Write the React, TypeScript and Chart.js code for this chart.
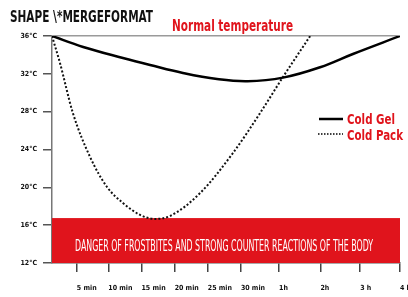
import React, { useEffect, useRef } from "react";
import { Chart, registerables } from "chart.js";

Chart.register(...registerables);

// Positions along the (non-uniform) time axis, in axis units
const xTickPos = [0.75, 1.7, 2.7, 3.7, 4.7, 5.7, 6.85, 8.1, 9.3, 10.5];
const xTickLabels = ["5 min", "10 min", "15 min", "20 min", "25 min", "30 min", "1h", "2h", "3 h", "4 h"];

const yTicks = [12, 16, 20, 24, 28, 32, 36];

const coldGelX = [0, 0.94, 2.14, 2.96, 3.95, 4.98, 5.9, 6.97, 8.09, 9.08, 10.5];
const coldGelY = [36, 34.84, 33.67, 32.93, 32.09, 31.45, 31.22, 31.6, 32.7, 34.1, 36];

const coldPackX = [0, 0.24, 0.63, 1.15, 1.66, 2.14, 2.66, 3.11, 3.56, 4.47, 5.46, 6.28, 6.97, 7.79];
const coldPackY = [36, 33.15, 27.86, 23.2, 20.04, 18.35, 17.08, 16.66, 16.97, 19.4, 23.63, 27.86, 31.67, 36];

const dangerBand = [12, 16.75];
const normalTemp = 36;

const titleText = "SHAPE \\*MERGEFORMAT";
const normalText = "Normal temperature";
const dangerText = "DANGER OF FROSTBITES AND STRONG COUNTER REACTIONS OF THE BODY";
const seriesNames = ["Cold Gel", "Cold Pack"];

const RED = "#e0141c";
const COND = '"DejaVu Sans Condensed", "DejaVu Sans", sans-serif';

function fitText(ctx: CanvasRenderingContext2D, text: string, x: number, baseline: number, width: number, font: string, color: string) {
  ctx.save();
  ctx.font = font;
  ctx.fillStyle = color;
  ctx.textAlign = "left";
  ctx.textBaseline = "alphabetic";
  const w = ctx.measureText(text).width;
  const s = width / w;
  ctx.translate(x, baseline);
  ctx.scale(s, 1);
  ctx.fillText(text, 0, 0);
  ctx.restore();
}

const decorPlugin = {
  id: "decor",
  beforeDatasetsDraw(chart: any) {
    const { ctx, scales } = chart;
    const xs = scales.x, ys = scales.y;
    const l = xs.getPixelForValue(xs.min);
    const r = xs.getPixelForValue(xs.max);
    const t = ys.getPixelForValue(dangerBand[1]);
    const b = ys.getPixelForValue(dangerBand[0]);
    ctx.save();
    ctx.fillStyle = RED;
    ctx.fillRect(l, t, r - l, b - t);
    ctx.restore();
    fitText(ctx, dangerText, l + 23, t + 33, 298, `15px ${COND}`, "#ffffff");
  },
  afterDraw(chart: any) {
    const { ctx } = chart;
    fitText(ctx, titleText, 10, 22, 143, `bold 16px ${COND}`, "#111111");
    fitText(ctx, normalText, 172, 31, 121, `bold 15px ${COND}`, RED);
    // legend
    ctx.save();
    ctx.strokeStyle = "#000";
    ctx.lineWidth = 2.5;
    ctx.beginPath();
    ctx.moveTo(319, 119);
    ctx.lineTo(343, 119);
    ctx.stroke();
    ctx.lineWidth = 1.5;
    ctx.setLineDash([1.5, 1.5]);
    ctx.beginPath();
    ctx.moveTo(318, 134);
    ctx.lineTo(343, 134);
    ctx.stroke();
    ctx.restore();
    fitText(ctx, seriesNames[0], 347, 124, 48, `bold 14px ${COND}`, RED);
    fitText(ctx, seriesNames[1], 347, 140, 56, `bold 14px ${COND}`, RED);
  },
};

export default function App() {
  const ref = useRef<HTMLCanvasElement>(null);
  useEffect(() => {
    const chart = new Chart(ref.current!, {
      type: "line",
      data: {
        datasets: [
          {
            label: seriesNames[0],
            data: coldGelX.map((x, i) => ({ x, y: coldGelY[i] })),
            borderColor: "#000",
            borderWidth: 2.5,
            pointRadius: 0,
            tension: 0.4,
            fill: false,
          },
          {
            label: seriesNames[1],
            data: coldPackX.map((x, i) => ({ x, y: coldPackY[i] })),
            borderColor: "#111",
            borderWidth: 2,
            borderDash: [2, 2],
            pointRadius: 0,
            cubicInterpolationMode: "monotone",
            fill: false,
          },
        ],
      },
      options: {
        animation: false,
        responsive: true,
        maintainAspectRatio: false,
        layout: { padding: { left: 0, right: 8, top: 36, bottom: 0 } },
        plugins: { legend: { display: false }, tooltip: { enabled: false }, title: { display: false } },
        scales: {
          x: {
            type: "linear",
            min: 0,
            max: 10.5,
            afterBuildTicks: (s: any) => {
              s.ticks = xTickPos.map((v) => ({ value: v }));
            },
            afterFit: (s: any) => {
              s.height = 34;
              s.paddingLeft = 0;
              s.paddingRight = 0;
            },
            ticks: {
              autoSkip: false,
              maxRotation: 0,
              align: "start",
              padding: 12,
              color: "#111",
              font: { family: COND, size: 7, weight: "bold" },
              callback: (_v: any, i: number) => xTickLabels[i],
            },
            grid: { drawOnChartArea: false, drawTicks: true, tickLength: 9, tickColor: "#444", lineWidth: 1.5 },
            border: { display: true, color: "#555", width: 1.5 },
          },
          y: {
            min: 12,
            max: 36,
            afterBuildTicks: (s: any) => {
              s.ticks = yTicks.map((v) => ({ value: v }));
            },
            afterFit: (s: any) => {
              s.width = 52;
              s.paddingTop = 0;
              s.paddingBottom = 0;
            },
            ticks: {
              padding: 6,
              color: "#111",
              font: { family: COND, size: 7, weight: "bold" },
              callback: (v: any) => `${v}°C`,
            },
            grid: {
              drawTicks: true,
              tickLength: 9,
              tickColor: "#555",
              lineWidth: 1.5,
              color: (c: any) => (c.tick && c.tick.value === normalTemp ? "#9a9a9a" : "rgba(0,0,0,0)"),
            },
            border: { display: true, color: "#777", width: 1.5 },
          },
        },
      },
      plugins: [decorPlugin],
    } as any);
    return () => chart.destroy();
  }, []);
  return (
    <div style={{ position: "absolute", left: 0, top: 0, width: 408, height: 297, background: "#fff" }}>
      <canvas ref={ref} />
    </div>
  );
}
